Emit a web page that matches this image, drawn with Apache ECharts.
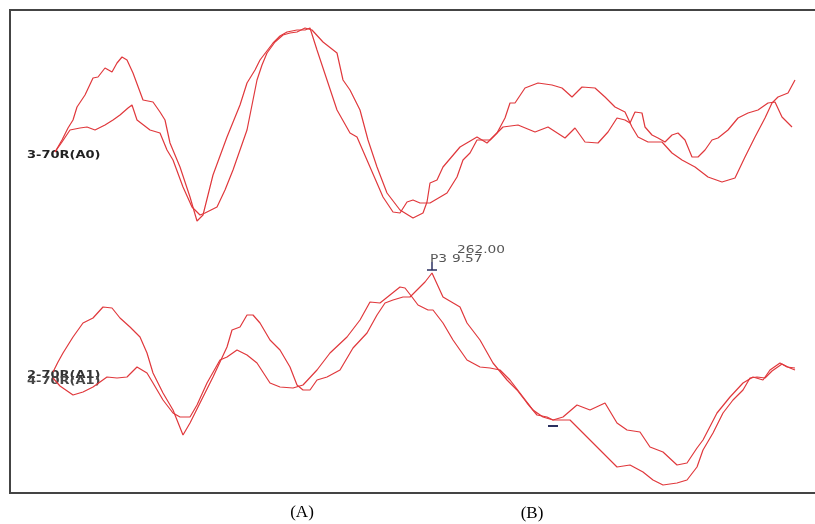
<!DOCTYPE html>
<html>
<head>
<meta charset="utf-8">
<style>
html,body{margin:0;padding:0;background:#fff;}
#chart{width:815px;height:524px;}
</style>
<script src="https://cdn.jsdelivr.net/npm/echarts@6/dist/echarts.min.js"></script>
</head>
<body>
<div id="chart"></div>
<script>
// Channel labels
const channelTop = '3-70R(A0)';
const channelBottom1 = '2-70R(A1)';
const channelBottom2 = '4-70R(A1)';
const panelLabels = ['(A)', '(B)'];
const cursorP3 = {name: 'P3', time: '262.00', value: '9.57'};

// Top pair (A0), [sample, amplitude]
const traceA0a = [[45,341],[52,353],[58,365],[63,373],[67,386],[75,398],[83,415],[88,416],[95,425],[102,421],[107,430],[112,436],[117,433],[123,420],[133,393],[143,391],[150,381],[155,373],[160,350],[170,326],[180,296],[187,272],[193,278],[203,318],[217,356],[230,388],[237,410],[245,423],[250,433],[263,450],[270,457],[277,461],[287,463],[295,463],[300,465],[307,443],[317,413],[327,383],[340,360],[347,356],[360,326],[373,296],[383,281],[390,280],[397,291],[403,293],[410,290],[420,290],[437,300],[447,316],[453,333],[460,340],[467,353],[480,353],[493,366],[508,368],[525,361],[538,366],[555,355],[565,365],[575,351],[588,350],[598,361],[607,375],[615,373],[620,370],[625,381],[632,380],[635,366],[642,358],[648,355],[655,351],[662,358],[668,360],[675,353],[682,336],[688,336],[695,343],[702,353],[708,355],[718,363],[728,375],[738,380],[748,383],[758,390],[765,391],[772,376],[782,366]];
const traceA0b = [[45,341],[52,351],[60,363],[70,365],[77,366],[85,363],[95,368],[103,373],[110,378],[118,385],[122,388],[127,373],[140,363],[150,360],[157,343],[163,333],[173,306],[182,286],[190,278],[195,280],[207,286],[215,303],[223,323],[230,343],[237,363],[242,388],[247,413],[252,428],[257,440],[265,451],[273,458],[280,460],[287,461],[295,465],[302,463],[313,451],[327,440],[333,413],[340,403],[350,383],[358,353],[367,326],[377,300],[390,283],[403,275],[413,280],[417,291],[420,310],[427,313],[433,326],[450,346],[467,356],[477,350],[487,360],[495,375],[500,390],[505,390],[515,405],[528,410],[542,408],[552,405],[562,396],[572,406],[585,405],[595,396],[605,386],[615,381],[622,366],[628,356],[638,351],[652,351],[662,340],[672,333],[685,326],[698,316],[712,311],[725,315],[735,336],[745,356],[755,375],[762,390],[768,396],[778,400],[785,413]];

// Bottom pair (A1)
const traceA1a = [[43,121],[48,131],[53,140],[63,156],[73,170],[83,175],[93,186],[102,185],[110,175],[120,166],[130,156],[137,140],[143,120],[153,100],[163,83],[173,58],[180,70],[190,90],[203,116],[217,146],[222,163],[230,166],[237,178],[243,178],[250,170],[260,153],[270,143],[280,126],[287,108],[293,103],[300,103],[307,113],[317,116],[330,123],[343,145],[357,160],[367,178],[375,190],[383,193],[393,196],[400,196],[407,203],[415,211],[422,220],[433,196],[450,186],[457,170],[470,153],[483,130],[497,113],[507,103],[517,90],[527,78],[537,76],[543,73],[553,76],[567,88],[580,83],[595,90],[607,70],[617,63],[630,61],[640,46],[653,41],[667,28],[677,30],[687,45],[693,53],[707,80],[720,96],[733,110],[743,116],[753,113],[760,123],[770,130],[777,126],[785,125]];
const traceA1b = [[43,115],[50,107],[63,98],[73,101],[83,106],[97,116],[107,115],[117,116],[127,126],[137,120],[143,110],[153,93],[163,80],[170,76],[180,76],[187,88],[197,110],[210,133],[217,136],[227,143],[237,138],[247,130],[260,110],[270,106],[283,105],[293,108],[307,123],[320,140],[337,156],[350,173],[360,191],[370,190],[380,198],[390,206],[395,205],[402,196],[408,188],[418,183],[423,183],[433,170],[443,153],[457,133],[470,126],[480,125],[490,123],[500,113],[510,100],[523,83],[533,76],[543,73],[560,73],[577,56],[593,40],[607,26],[620,28],[633,21],[643,13],[653,8],[667,10],[677,13],[687,26],[693,43],[703,60],[713,80],[723,93],[733,103],[740,115],[747,116],[755,115],[762,122],[772,129],[780,125],[785,123]];

const cursorPoint = [422, 220];
const cursorPoint2 = [543, 73];

const chart = echarts.init(document.getElementById('chart'), null, {renderer: 'canvas'});
const red = '#e0383c';
function mk(data) {
  return {type: 'line', data: data, showSymbol: false, smooth: false,
    lineStyle: {color: red, width: 1.2}, silent: true, animation: false};
}
chart.setOption({
  animation: false,
  grid: {left: 10, top: 10, right: 0, bottom: 31, show: false},
  xAxis: {type: 'value', min: 0, max: 805, show: false},
  yAxis: {type: 'value', min: 0, max: 483, show: false},
  series: [mk(traceA0a), mk(traceA0b), mk(traceA1a), mk(traceA1b)]
});

const tl = chart.convertToPixel({gridIndex: 0}, [0, 483]);
const br = chart.convertToPixel({gridIndex: 0}, [805, 0]);
const p = chart.convertToPixel({gridIndex: 0}, cursorPoint);
const q = chart.convertToPixel({gridIndex: 0}, cursorPoint2);
const navy = '#2b3160';
function txt(t, x, y, font, fill, sx) {
  return {type: 'text', x: x, y: y, scaleX: sx || 1,
    style: {text: t, font: font, fill: fill, textAlign: 'left', textVerticalAlign: 'middle', align: 'left', verticalAlign: 'middle'}};
}
chart.setOption({
  graphic: [
    {type: 'polyline', z: 10, shape: {points: [[br[0] + 5, tl[1]], [tl[0], tl[1]], [tl[0], br[1]], [br[0] + 5, br[1]]]},
      style: {stroke: '#444', lineWidth: 2, fill: null}},
    txt(channelTop, 27, 155, 'bold 10px "DejaVu Sans"', '#222', 1.3),
    txt(channelBottom1, 27, 375, 'bold 10px "DejaVu Sans"', '#333', 1.3),
    txt(channelBottom2, 27, 381, 'bold 10px "DejaVu Sans"', '#444', 1.3),
    {type: 'line', shape: {x1: p[0], y1: p[1] - 11, x2: p[0], y2: p[1] - 3}, style: {stroke: navy, lineWidth: 1.5}},
    {type: 'line', shape: {x1: p[0] - 5, y1: p[1] - 3, x2: p[0] + 5, y2: p[1] - 3}, style: {stroke: navy, lineWidth: 1.5}},
    txt(cursorP3.name, p[0] - 2, p[1] - 14, '11px "DejaVu Sans"', '#555', 1.25),
    txt(cursorP3.value, p[0] + 20, p[1] - 14, '11px "DejaVu Sans"', '#555', 1.25),
    txt(cursorP3.time, p[0] + 25, p[1] - 23, '11px "DejaVu Sans"', '#555', 1.25),
    {type: 'line', shape: {x1: q[0] - 5, y1: q[1] + 6, x2: q[0] + 5, y2: q[1] + 6}, style: {stroke: navy, lineWidth: 2}},
    {type: 'text', x: 302, y: 513, style: {text: panelLabels[0], font: '17px "Liberation Serif"', fill: '#000', textAlign: 'center', textVerticalAlign: 'middle', align: 'center', verticalAlign: 'middle'}},
    {type: 'text', x: 532, y: 514, style: {text: panelLabels[1], font: '17px "Liberation Serif"', fill: '#000', textAlign: 'center', textVerticalAlign: 'middle', align: 'center', verticalAlign: 'middle'}}
  ]
});
</script>
</body>
</html>
